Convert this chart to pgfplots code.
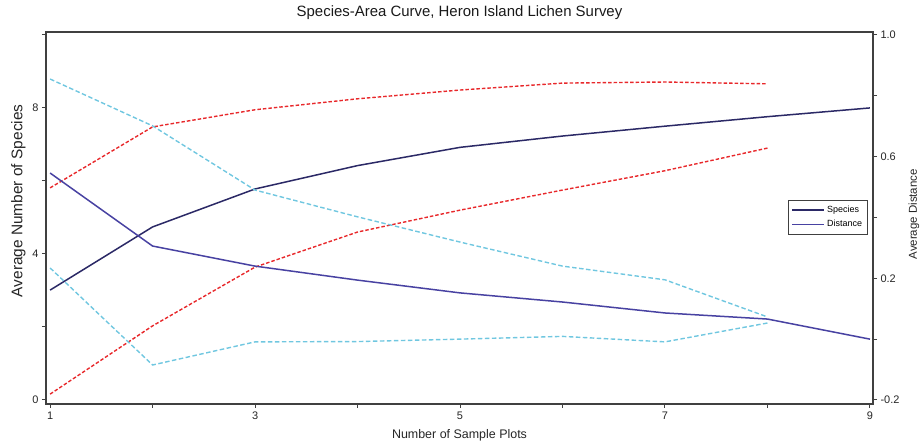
\documentclass[border=0pt]{standalone}
\usepackage{fontspec}
\setmainfont{Liberation Sans}
\usepackage{pgfplots}
\pgfplotsset{compat=1.18}

\definecolor{clrSpecies}{HTML}{2B2966}
\definecolor{clrDistance}{HTML}{4842A2}
\definecolor{clrRed}{HTML}{E8282B}
\definecolor{clrCyan}{HTML}{70C7E0}
\definecolor{clrFrame}{HTML}{404040}

% Species counts (left axis) with upper/lower bounds
\pgfplotstableread{
x  y
1  3.01
2  4.74
3  5.78
4  6.42
5  6.92
6  7.23
7  7.50
8  7.76
9  8.00
}\speciesdata
\pgfplotstableread{
x  y
1  5.81
2  7.48
3  7.95
4  8.25
5  8.49
6  8.68
7  8.71
8  8.66
}\speciesupper
\pgfplotstableread{
x  y
1  0.16
2  2.03
3  3.64
4  4.60
5  5.20
6  5.75
7  6.28
8  6.90
}\specieslower

% Average distance (right axis) with upper/lower bounds
\pgfplotstableread{
x  y
1  0.546
2  0.306
3  0.240
4  0.194
5  0.152
6  0.122
7  0.086
8  0.066
9  0.000
}\distdata
\pgfplotstableread{
x  y
1  0.855
2  0.701
3  0.490
4  0.402
5  0.319
6  0.240
7  0.195
8  0.073
}\distupper
\pgfplotstableread{
x  y
1  0.234
2  -0.085
3  -0.009
4  -0.008
5  0.000
6  0.009
7  -0.009
8  0.053
}\distlower

\pgfplotsset{
  base/.style={
    width=827bp, height=372bp, scale only axis,
    at={(0,0)}, anchor=south west,
    xmin=0.96, xmax=9.03,
    axis line style={clrFrame, line width=1.6bp},
    tick align=outside,
    major tick length=4bp,
    every tick/.style={clrFrame, line width=1bp},
    tick label style={font=\fontsize{11}{13}\selectfont, text=black!85},
  },
  speciesline/.style={clrSpecies, line width=1.5bp},
  distline/.style={clrDistance, line width=1.5bp},
  redci/.style={clrRed, line width=1.4bp, dash pattern=on 3.5bp off 2bp},
  cyanci/.style={clrCyan, line width=1.4bp, dash pattern=on 4.5bp off 2.5bp},
}

\begin{document}
\begin{tikzpicture}
\begin{axis}[base,
  ymin=-0.11, ymax=10.08,
  xtick={1,...,9}, xticklabels={1,,3,,5,,7,,9},
  ytick={0,2,...,10}, yticklabels={0,,4,,8,},
  xtick pos=bottom, ytick pos=left,
  title={Species-Area Curve, Heron Island Lichen Survey},
  title style={at={(rel axis cs:0.5,1)}, anchor=base, yshift=9.5bp,
    font=\fontsize{15}{18}\selectfont, text=black!90},
  xlabel={Number of Sample Plots},
  xlabel style={at={(rel axis cs:0.5,0)}, anchor=center, yshift=-31bp,
    font=\fontsize{12.5}{15}\selectfont, text=black!85},
  ylabel={Average Number of Species},
  ylabel style={at={(rel axis cs:-0.0333,0.546)}, anchor=center,
    font=\fontsize{15.5}{18}\selectfont, text=black!85},
]
\addplot[redci] table {\speciesupper};
\addplot[redci] table {\specieslower};
\addplot[speciesline] table {\speciesdata};
\end{axis}

\begin{axis}[base,
  ymin=-0.2132, ymax=1.0096,
  axis x line=none, axis y line*=right,
  ytick={-0.2,0,0.2,0.4,0.6,0.8,1.0},
  yticklabels={-0.2,,0.2,,0.6,,1.0},
  ylabel={Average Distance},
  ylabel style={at={(rel axis cs:1.0496,0.51)}, anchor=center,
    font=\fontsize{11.5}{14}\selectfont, text=black!85},
  legend style={at={(rel axis cs:0.993,0.548)}, anchor=north east,
    draw=clrFrame, font=\fontsize{9}{10}\selectfont,
    inner xsep=3bp, inner ysep=3.5bp, row sep=2.5bp, cells={anchor=west}},
  legend image code/.code={\draw[#1, line width=1.5bp] (0bp,0bp) -- (32bp,0bp);},
]
\addlegendimage{speciesline}
\addlegendentry{Species}
\addlegendimage{distline}
\addlegendentry{Distance}
\addplot[cyanci, forget plot] table {\distupper};
\addplot[cyanci, forget plot] table {\distlower};
\addplot[distline, forget plot] table {\distdata};
\end{axis}
\path (-46bp,-40bp) rectangle (878bp,404bp);
\end{tikzpicture}
\end{document}
